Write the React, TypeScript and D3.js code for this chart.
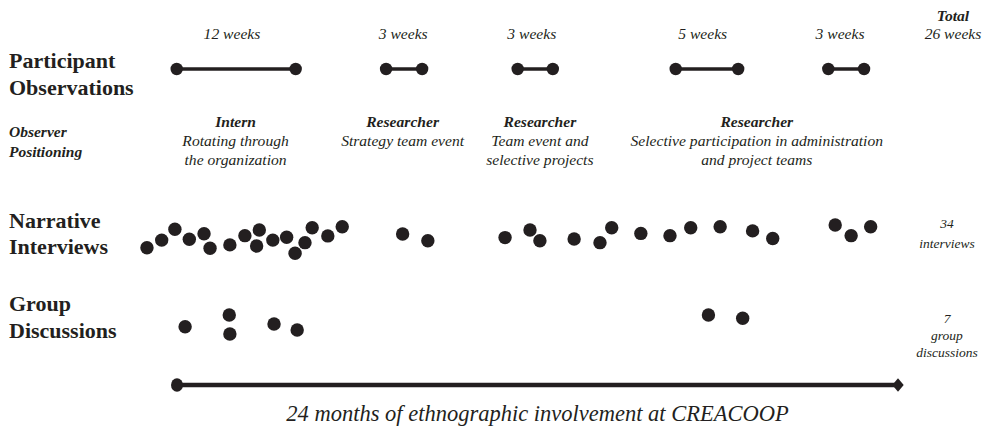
import React from "react";
import * as d3 from "d3";

// ---- data (time in months of the 24-month involvement, 1 = start) ----
const observationStart = [0.99, 7.96, 12.34, 17.6, 22.68];
const observationEnd = [4.95, 9.16, 13.51, 19.68, 23.87];
const observationWeeks = ["12 weeks", "3 weeks", "3 weeks", "5 weeks", "3 weeks"];
const weekLabelMonth = [2.83, 8.53, 12.81, 18.5, 23.07];

const roleTitles = ["Intern", "Researcher", "Researcher", "Researcher"];
const roleDescriptions = [
  ["Rotating through", "the organization"],
  ["Strategy team event"],
  ["Team event and", "selective projects"],
  ["Selective participation in administration", "and project teams"],
];
const roleLabelMonth = [2.95, 8.51, 13.08, 20.3];

const interviewMonth = [
  0.0, 0.49, 0.93, 1.41, 1.9, 2.1, 2.76, 3.26, 3.74, 3.65, 4.19, 4.65, 4.93, 5.26, 5.5, 6.02, 6.5,
  8.51, 9.35, 11.92, 12.75, 13.08, 14.22, 15.08, 15.47, 16.44, 17.41, 18.1, 19.08, 20.16, 20.83,
  22.91, 23.44, 24.09,
];
const interviewLevel = [
  0.81, 0.54, 0.15, 0.51, 0.31, 0.83, 0.71, 0.38, 0.18, 0.75, 0.54, 0.44, 1.01, 0.63, 0.1, 0.39, 0.06,
  0.32, 0.56, 0.45, 0.18, 0.56, 0.5, 0.63, 0.1, 0.3, 0.38, 0.1, 0.06, 0.21, 0.48, 0.0, 0.38, 0.06,
];

const discussionMonth = [1.27, 2.74, 2.76, 4.23, 5.0, 18.69, 19.83];
const discussionLevel = [0.62, 0.0, 1.0, 0.47, 0.79, 0.0, 0.17];

const timelineSpan = [1, 25];

const rowLabels = [
  ["Participant", "Observations"],
  ["Narrative", "Interviews"],
  ["Group", "Discussions"],
];
const positioningLabel = ["Observer", "Positioning"];
const totalWeeks = ["Total", "26 weeks"];
const totalLines = [
  ["34", "interviews"],
  ["7", "group", "discussions"],
];
const titleText = "24 months of ethnographic involvement at CREACOOP";

// ---- layout ----
const W = 996;
const H = 442;
const INK = "#231f20";
const FONT = "'Liberation Serif', 'Times New Roman', serif";
const ITALIC_SIZE = 15.6;

export default function App() {
  const x = d3.scaleLinear().domain(timelineSpan).range([177, 898]);
  const yInterview = d3.scaleLinear().domain([0, 1]).range([225, 253]);
  const yDiscussion = d3.scaleLinear().domain([0, 1]).range([315, 334]);
  const obsY = 69;
  const baseY = 385;
  const r = 6.7;

  const x0 = x(timelineSpan[0]);
  const xs = x(timelineSpan[1]);
  const diamond = `M${xs - 5.7},${baseY} L${xs},${baseY - 6.7} L${xs + 5.7},${baseY} L${xs},${baseY + 6.7} Z`;

  return (
    <svg
      width={W}
      height={H}
      style={{ position: "absolute", left: 0, top: 0, background: "#fff" }}
      fontFamily={FONT}
      fill={INK}
    >
      {/* Row labels */}
      <text fontSize={22} fontWeight="bold">
        <tspan x={9} y={67.7}>{rowLabels[0][0]}</tspan>
        <tspan x={9} y={95}>{rowLabels[0][1]}</tspan>
      </text>
      <text fontSize={15.5} fontWeight="bold" fontStyle="italic">
        <tspan x={9} y={137}>{positioningLabel[0]}</tspan>
        <tspan x={9} y={156.5}>{positioningLabel[1]}</tspan>
      </text>
      <text fontSize={22} fontWeight="bold">
        <tspan x={9} y={227.7}>{rowLabels[1][0]}</tspan>
        <tspan x={9} y={254.3}>{rowLabels[1][1]}</tspan>
      </text>
      <text fontSize={22} fontWeight="bold">
        <tspan x={9} y={311}>{rowLabels[2][0]}</tspan>
        <tspan x={9} y={337.7}>{rowLabels[2][1]}</tspan>
      </text>

      {/* Week labels */}
      {observationWeeks.map((w, i) => (
        <text
          key={"w" + i}
          x={x(weekLabelMonth[i])}
          y={39}
          fontSize={ITALIC_SIZE}
          fontStyle="italic"
          textAnchor="middle"
        >
          {w}
        </text>
      ))}
      <text fontSize={ITALIC_SIZE} fontStyle="italic" textAnchor="middle">
        <tspan x={953} y={21} fontWeight="bold">{totalWeeks[0]}</tspan>
        <tspan x={953} y={39.3}>{totalWeeks[1]}</tspan>
      </text>

      {/* Participant observation segments */}
      {observationStart.map((s, i) => (
        <g key={"o" + i}>
          <line x1={x(s)} x2={x(observationEnd[i])} y1={obsY} y2={obsY} stroke={INK} strokeWidth={3.6} />
          <circle cx={x(s)} cy={obsY} r={6.2} />
          <circle cx={x(observationEnd[i])} cy={obsY} r={6.2} />
        </g>
      ))}

      {/* Role labels */}
      {roleTitles.map((t, i) => (
        <text key={"r" + i} fontSize={ITALIC_SIZE} fontStyle="italic" textAnchor="middle">
          <tspan x={x(roleLabelMonth[i])} y={127.3} fontWeight="bold">{t}</tspan>
          {roleDescriptions[i].map((line, j) => (
            <tspan key={j} x={x(roleLabelMonth[i])} y={146 + j * 19}>{line}</tspan>
          ))}
        </text>
      ))}

      {/* Narrative interviews */}
      {interviewMonth.map((m, i) => (
        <circle key={"n" + i} cx={x(m)} cy={yInterview(interviewLevel[i])} r={r} />
      ))}

      {/* Group discussions */}
      {discussionMonth.map((m, i) => (
        <circle key={"g" + i} cx={x(m)} cy={yDiscussion(discussionLevel[i])} r={r} />
      ))}

      {/* Totals */}
      <text fontSize={13.5} fontStyle="italic" textAnchor="middle">
        {totalLines[0].map((l, j) => (
          <tspan key={j} x={947} y={228 + j * 20}>{l}</tspan>
        ))}
      </text>
      <text fontSize={13.5} fontStyle="italic" textAnchor="middle">
        {totalLines[1].map((l, j) => (
          <tspan key={j} x={947} y={323 + j * 17}>{l}</tspan>
        ))}
      </text>

      {/* Bottom timeline */}
      <line x1={x0} x2={xs} y1={baseY} y2={baseY} stroke={INK} strokeWidth={4.3} />
      <ellipse cx={x0} cy={baseY} rx={6} ry={6.7} />
      <path d={diamond} />
      <text x={(x0 + xs) / 2} y={421} fontSize={22.5} fontStyle="italic" textAnchor="middle">
        {titleText}
      </text>
    </svg>
  );
}
